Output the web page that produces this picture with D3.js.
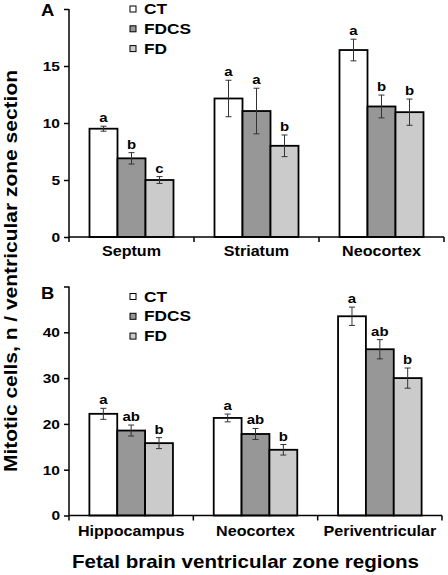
<!DOCTYPE html>
<html><head><meta charset="utf-8">
<script src="https://cdn.jsdelivr.net/npm/d3@7"></script>
<style>body{margin:0;background:#fff}svg{display:block}text{font-family:"Liberation Sans",Arial,sans-serif;font-weight:bold;fill:#000}</style>
</head><body>
<svg id="c" width="448" height="575"></svg>
<script>
const series = ["CT", "FDCS", "FD"];
const seriesColors = ["#ffffff", "#979797", "#cbcbcb"];

const catsA = ["Septum", "Striatum", "Neocortex"];
const meansA = [[9.5, 6.9, 5.0], [12.15, 11.05, 8.0], [16.4, 11.45, 10.95]];
const errsA = [[0.22, 0.5, 0.3], [1.6, 2.0, 0.95], [0.95, 1.0, 1.15]];
const lettersA = [["a", "b", "c"], ["a", "a", "b"], ["a", "b", "b"]];
const ticksA = [0, 5, 10, 15, 20];

const catsB = ["Hippocampus", "Neocortex", "Periventricular"];
const meansB = [[22.2, 18.55, 15.8], [21.3, 17.8, 14.35], [43.5, 36.3, 30.0]];
const errsB = [[1.2, 1.2, 1.2], [0.85, 1.2, 1.15], [2.0, 2.1, 2.2]];
const lettersB = [["a", "ab", "b"], ["a", "ab", "b"], ["a", "ab", "b"]];
const ticksB = [0, 10, 20, 30, 40, 50];

const yTitle = "Mitotic cells, n / ventricular zone section";
const xTitle = "Fetal brain ventricular zone regions";

const svg = d3.select("#c");
const WIDEN = 1.15;

function widen(sel, k) {
  sel.each(function () {
    const t = this;
    if (!t.textContent) return;
    const w = t.getComputedTextLength();
    t.setAttribute("textLength", (w * (k || WIDEN)).toFixed(2));
    t.setAttribute("lengthAdjust", "spacingAndGlyphs");
  });
  return sel;
}

function panel(opt) {
  const g = svg.append("g");
  const x0 = d3.scaleBand().domain(opt.cats).range([opt.x0, opt.x1]).padding(0);
  const bw = x0.bandwidth();
  const x1 = d3.scaleBand().domain(series).range([bw * 0.164, bw * 0.836]).padding(0);
  const y = d3.scaleLinear().domain([0, opt.max]).range([opt.y0, opt.yTop]);

  opt.cats.forEach((c, i) => {
    series.forEach((s, j) => {
      const v = opt.means[i][j], e = opt.errs[i][j];
      const bx = x0(c) + x1(s);
      g.append("rect").attr("x", bx).attr("y", y(v))
        .attr("width", x1.bandwidth()).attr("height", y(0) - y(v))
        .attr("fill", seriesColors[j]).attr("stroke", "#000").attr("stroke-width", 1.8);
      const cx = bx + x1.bandwidth() / 2;
      const eg = g.append("g").attr("stroke", "#333").attr("stroke-width", 1);
      eg.append("line").attr("x1", cx).attr("x2", cx).attr("y1", y(v - e)).attr("y2", y(v + e));
      eg.append("line").attr("x1", cx - 3).attr("x2", cx + 3).attr("y1", y(v - e)).attr("y2", y(v - e));
      eg.append("line").attr("x1", cx - 3).attr("x2", cx + 3).attr("y1", y(v + e)).attr("y2", y(v + e));
      widen(g.append("text").attr("x", cx).attr("y", y(v + e) - 4).attr("text-anchor", "middle")
        .style("font-size", "13px").text(opt.letters[i][j]));
    });
  });

  const ya = g.append("g").attr("transform", `translate(${opt.x0},0)`)
    .call(d3.axisLeft(y).tickValues(opt.ticks).tickSize(5).tickPadding(4)
      .tickFormat(d => d === opt.max ? "" : d));
  ya.select(".domain").attr("d", `M0,${opt.yTop}V${opt.y0}`).attr("stroke", "#000").attr("stroke-width", 1.5);
  ya.selectAll(".tick line").attr("stroke", "#000").attr("stroke-width", 1.5);
  widen(ya.selectAll(".tick text").style("font-size", "13.5px").style("font-family", "Liberation Sans")
    .style("font-weight", "bold").attr("fill", "#000"));

  const xa = g.append("g").attr("transform", `translate(0,${opt.y0})`);
  xa.append("line").attr("x1", opt.x0).attr("x2", opt.x1).attr("stroke", "#000").attr("stroke-width", 1.5);
  const bounds = [opt.x0].concat(opt.cats.map(c => x0(c) + bw));
  bounds.forEach(b => xa.append("line").attr("x1", b).attr("x2", b).attr("y1", 0).attr("y2", 5)
    .attr("stroke", "#000").attr("stroke-width", 1.5));
  opt.cats.forEach(c => widen(xa.append("text").attr("x", x0(c) + bw / 2).attr("y", opt.labY)
    .attr("text-anchor", "middle").style("font-size", "14px").text(c)));

  widen(g.append("text").attr("x", 41).attr("y", opt.letterY).style("font-size", "16px").text(opt.letter));

  series.forEach((s, j) => {
    const by = opt.legY + j * opt.legStep;
    g.append("rect").attr("x", 130).attr("y", by - 8).attr("width", 6).attr("height", 6)
      .attr("fill", seriesColors[j]).attr("stroke", "#000").attr("stroke-width", 1);
    widen(g.append("text").attr("x", 144).attr("y", by).style("font-size", "15px").text(s));
  });
}

panel({cats: catsA, means: meansA, errs: errsA, letters: lettersA, ticks: ticksA, max: 20,
  x0: 69, x1: 444, y0: 237, yTop: 9, labY: 19, letter: "A", letterY: 16, legY: 14, legStep: 19.8});
panel({cats: catsB, means: meansB, errs: errsB, letters: lettersB, ticks: ticksB, max: 50,
  x0: 69, x1: 442, y0: 515.5, yTop: 286.5, labY: 20.5, letter: "B", letterY: 299, legY: 301.5, legStep: 19.8});

svg.append("text").attr("transform", "translate(17,271) rotate(-90)").attr("text-anchor", "middle")
  .style("font-size", "18.5px").attr("textLength", 402).attr("lengthAdjust", "spacingAndGlyphs").text(yTitle);
svg.append("text").attr("x", 245.5).attr("y", 568).attr("text-anchor", "middle")
  .style("font-size", "18.5px").attr("textLength", 347).attr("lengthAdjust", "spacingAndGlyphs").text(xTitle);
</script>
</body></html>
